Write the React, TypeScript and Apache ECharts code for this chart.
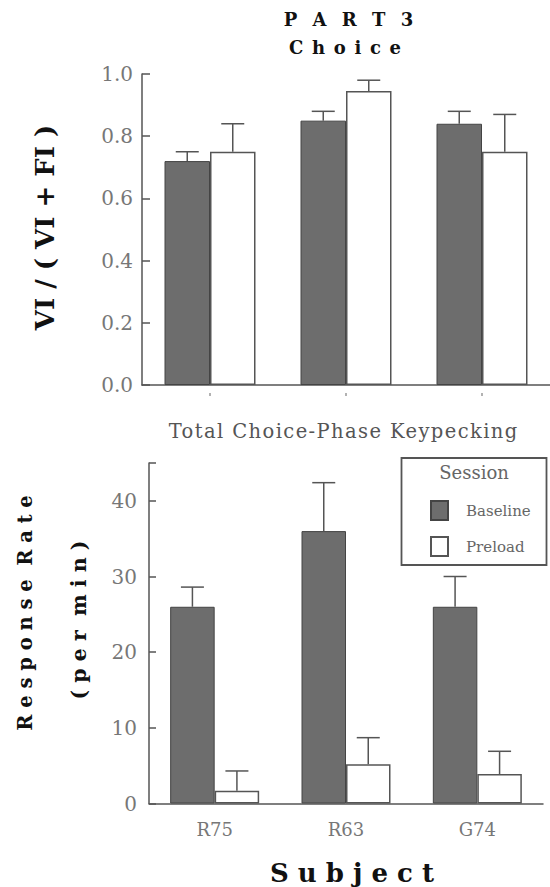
import React, { useEffect, useRef } from "react";
import * as echarts from "echarts";

// ---- data ----
const subjects = ["R75", "R63", "G74"];
const sessionNames = ["Baseline", "Preload"];
const choiceBaseline = [0.72, 0.85, 0.84];
const choiceBaselineErrTop = [0.75, 0.88, 0.88];
const choicePreload = [0.75, 0.945, 0.75];
const choicePreloadErrTop = [0.84, 0.98, 0.87];
const rateBaseline = [26.0, 36.0, 26.0];
const rateBaselineErrTop = [28.6, 42.4, 30.0];
const ratePreload = [1.7, 5.2, 3.9];
const ratePreloadErrTop = [4.3, 8.7, 6.9];

const SERIF = "DejaVu Serif";
const AXIS = "#555";
const DARK = "#6d6d6d";

const LETTER_SPACING: Record<string, number> = {
  "P A R T 3": 4.5,
  "C h o i c e": 1.2,
  "Total Choice-Phase Keypecking": 1.4,
};

function errSeries(
  xAxisIndex: number,
  yAxisIndex: number,
  values: number[],
  tops: number[],
  offset: number,
  cap: number
) {
  return {
    type: "custom",
    xAxisIndex,
    yAxisIndex,
    z: 5,
    silent: true,
    data: values.map((v, i) => [i, v, tops[i]]),
    encode: { x: 0, y: [1, 2] },
    renderItem: (_params: any, api: any) => {
      const p0 = api.coord([api.value(0), api.value(1)]);
      const p1 = api.coord([api.value(0), api.value(2)]);
      const x = p0[0] + offset;
      const st = { stroke: AXIS, lineWidth: 1.5 };
      return {
        type: "group",
        children: [
          { type: "line", shape: { x1: x, y1: p0[1], x2: x, y2: p1[1] }, style: st },
          { type: "line", shape: { x1: x - cap, y1: p1[1], x2: x + cap, y2: p1[1] }, style: st },
        ],
      };
    },
  };
}

function txt(text: string, x: number, y: number, fontSize: number, opts: any = {}) {
  const ls = LETTER_SPACING[text] || 0;
  return {
    type: "text",
    x: x + (opts.rotation ? 0 : ls / 2),
    y: y + (opts.rotation ? -ls / 2 : 0),
    rotation: opts.rotation || 0,
    silent: true,
    style: {
      text,
      fontSize,
      fontFamily: SERIF,
      fontWeight: opts.bold ? "bold" : "normal",
      fill: opts.color || "#111",
      align: "center",
      verticalAlign: "middle",
    },
  };
}

export default function App() {
  const ref = useRef<HTMLDivElement>(null);

  useEffect(() => {
    const el = ref.current!;
    const chart = echarts.init(el, null, { renderer: "svg" });
    const barTopW = 45.5;
    const barBotW = 44.5;

    const option: any = {
      animation: false,
      backgroundColor: "#fff",
      grid: [
        { left: 142, right: 0, top: 74, bottom: 502 },
        { left: 149, right: 7, top: 463, bottom: 83.5 },
      ],
      xAxis: [
        {
          type: "category",
          gridIndex: 0,
          data: subjects,
          axisLine: { show: true, lineStyle: { color: AXIS, width: 1.5 } },
          axisTick: { show: false },
          axisLabel: { show: false },
        },
        {
          type: "category",
          gridIndex: 0,
          data: subjects,
          position: "bottom",
          offset: 8,
          axisLine: { show: false },
          axisTick: { show: true, alignWithLabel: true, length: 3, lineStyle: { color: "#999", width: 1.5 } },
          axisLabel: { show: false },
        },
        {
          type: "category",
          gridIndex: 1,
          data: subjects,
          axisLine: { show: true, lineStyle: { color: AXIS, width: 1.5 } },
          axisTick: { show: false },
          axisLabel: { fontFamily: SERIF, fontSize: 18, color: "#777", margin: 17 },
        },
      ],
      yAxis: [
        {
          type: "value",
          gridIndex: 0,
          min: 0,
          max: 1,
          interval: 0.2,
          splitLine: { show: false },
          axisLine: { show: true, lineStyle: { color: AXIS, width: 1.5 } },
          axisTick: { show: true, inside: true, length: 8, lineStyle: { color: AXIS, width: 1.5 } },
          axisLabel: {
            fontFamily: SERIF,
            fontSize: 20,
            color: "#777",
            margin: 9,
            formatter: (v: number) => v.toFixed(1),
          },
        },
        {
          type: "value",
          gridIndex: 1,
          min: 0,
          max: 45,
          interval: 10,
          splitLine: { show: false },
          axisLine: { show: true, lineStyle: { color: AXIS, width: 1.5 } },
          axisTick: { show: true, inside: true, length: 7, lineStyle: { color: AXIS, width: 1.5 } },
          axisLabel: {
            fontFamily: SERIF,
            fontSize: 20,
            color: "#777",
            margin: 12,
            formatter: (v: number) => (v % 10 === 0 ? String(v) : ""),
          },
        },
      ],
      legend: {
        data: sessionNames,
        orient: "vertical",
        left: 425,
        top: 495,
        itemWidth: 17,
        itemHeight: 19,
        itemGap: 15,
        icon: "rect",
        selectedMode: false,
        textStyle: { fontFamily: SERIF, fontSize: 15, color: "#666", padding: [0, 0, 0, 13] },
      },
      series: [
        {
          type: "bar",
          name: sessionNames[0],
          xAxisIndex: 0,
          yAxisIndex: 0,
          data: choiceBaseline,
          barWidth: barTopW,
          barGap: "0%",
          itemStyle: { color: DARK, borderColor: "#444", borderWidth: 1 },
        },
        {
          type: "bar",
          name: sessionNames[1],
          xAxisIndex: 0,
          yAxisIndex: 0,
          data: choicePreload,
          barWidth: barTopW,
          barGap: "0%",
          itemStyle: { color: "#fff", borderColor: AXIS, borderWidth: 1.5 },
        },
        {
          type: "bar",
          name: sessionNames[0],
          xAxisIndex: 2,
          yAxisIndex: 1,
          data: rateBaseline,
          barWidth: barBotW,
          barGap: "0%",
          itemStyle: { color: DARK, borderColor: "#444", borderWidth: 1 },
        },
        {
          type: "bar",
          name: sessionNames[1],
          xAxisIndex: 2,
          yAxisIndex: 1,
          data: ratePreload,
          barWidth: barBotW,
          barGap: "0%",
          itemStyle: { color: "#fff", borderColor: AXIS, borderWidth: 1.5 },
        },
        errSeries(0, 0, choiceBaseline, choiceBaselineErrTop, -barTopW / 2, 11.5),
        errSeries(0, 0, choicePreload, choicePreloadErrTop, barTopW / 2, 11.5),
        errSeries(2, 1, rateBaseline, rateBaselineErrTop, -barBotW / 2, 11.5),
        errSeries(2, 1, ratePreload, ratePreloadErrTop, barBotW / 2, 11.5),
      ],
      graphic: [
        txt("P A R T 3", 348.5, 19, 18, { bold: true }),
        txt("C h o i c e", 345, 47, 18, { bold: true }),
        txt("VI / ( VI + FI )", 45, 227.5, 26, { bold: true, rotation: Math.PI / 2 }),
        txt("Total Choice-Phase Keypecking", 343, 431, 19.5, { color: "#555" }),
        txt("R e s p o n s e  R a t e", 25, 613, 19.5, { bold: true, rotation: Math.PI / 2 }),
        txt("( p e r  m i n )", 79, 620, 20.5, { bold: true, rotation: Math.PI / 2 }),
        txt("S u b j e c t", 352, 873, 26, { bold: true }),
        {
          type: "rect",
          silent: true,
          shape: { x: 401.5, y: 458, width: 145, height: 107 },
          style: { fill: "none", stroke: AXIS, lineWidth: 1.8 },
        },
        txt("Session", 474, 472, 18, { color: "#666" }),
      ],
    };

    chart.setOption(option);
    const applySpacing = () => {
      el.querySelectorAll("text").forEach((t) => {
        const k = (t.textContent || "").trim();
        if (LETTER_SPACING[k] != null) t.setAttribute("letter-spacing", LETTER_SPACING[k] + "px");
      });
    };
    applySpacing();
    chart.on("finished", applySpacing);
    const raf = requestAnimationFrame(applySpacing);

    return () => {
      cancelAnimationFrame(raf);
      chart.dispose();
    };
  }, []);

  return (
    <div
      ref={ref}
      style={{ position: "absolute", left: 0, top: 0, width: 550, height: 887, background: "#fff" }}
    />
  );
}
